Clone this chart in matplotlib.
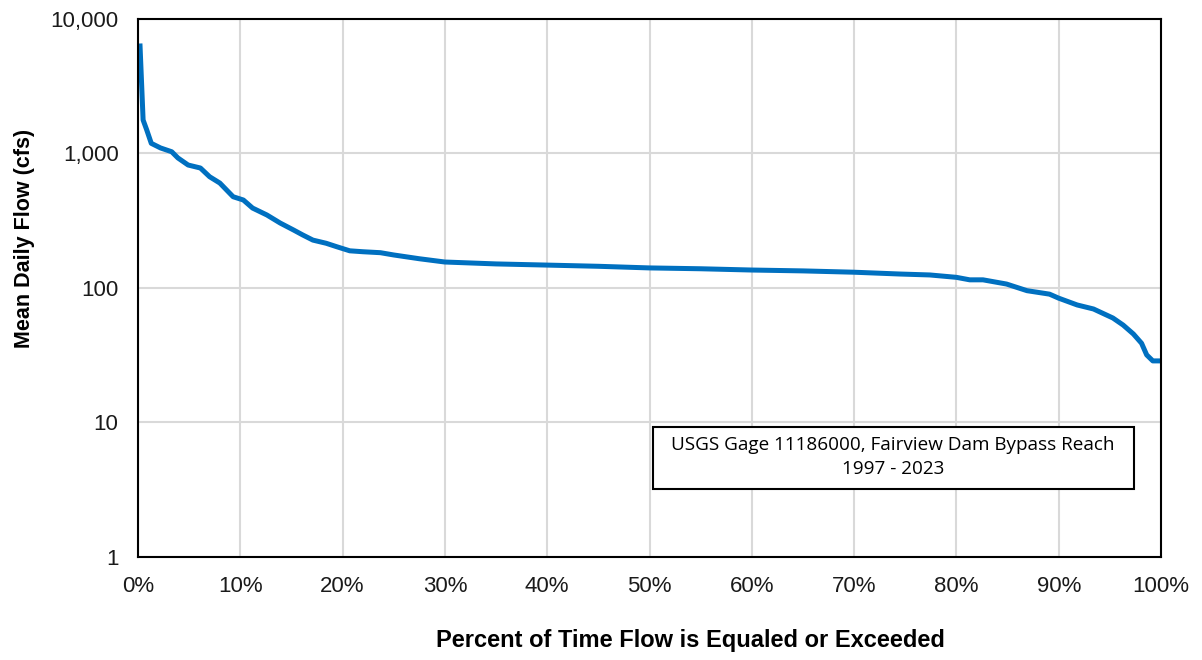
import matplotlib.pyplot as plt
from matplotlib.patches import Rectangle
from matplotlib.ticker import FuncFormatter, FixedLocator

# flow duration curve
PCT = [0.2, 0.5, 0.85, 1.3, 2.2, 3.3, 3.9, 4.9, 6.1, 7.0, 8.0, 9.3, 10.3, 11.2,
       12.6, 13.9, 15.2, 16.1, 17.1, 18.4, 19.4, 20.7, 22.0, 23.7, 25.0, 27.5,
       30.0, 35.0, 40.0, 45.0, 50.0, 55.0, 60.0, 65.0, 70.0, 74.5, 77.4, 80.0,
       81.3, 82.6, 84.9, 86.9, 89.1, 90.0, 91.8, 93.4, 95.3, 96.3, 97.3, 98.1,
       98.6, 99.2, 100.0]
FLOW = [6300, 1775, 1500, 1190, 1100, 1030, 927, 821, 780, 672, 603, 477, 451, 393,
        349, 304, 270, 248, 227, 215, 203, 189, 186, 183, 176, 165,
        156, 151, 148, 145, 141, 139, 136, 134, 131, 127, 125, 120,
        115, 115, 107, 95.5, 90, 84, 74.8, 69.8, 59.8, 53, 45.5, 38.8,
        31.8, 28.7, 28.7]

plt.rcParams['font.family'] = ['Liberation Sans', 'DejaVu Sans']

fig = plt.figure(figsize=(12.02, 6.6), dpi=100)
ax = fig.add_axes([0.1148, 0.1561, 0.8511, 0.8151])

ax.plot(PCT, FLOW, color='#0070C0', linewidth=3.6, solid_joinstyle='round')

ax.set_yscale('log')
ax.set_xlim(0, 100)
ax.set_ylim(1, 10000)
ax.xaxis.set_major_locator(FixedLocator(range(0, 101, 10)))
ax.xaxis.set_major_formatter(FuncFormatter(lambda v, p: '%d%%' % v))
ax.yaxis.set_major_locator(FixedLocator([1, 10, 100, 1000, 10000]))
ax.yaxis.set_major_formatter(FuncFormatter(lambda v, p: '{:,.0f}'.format(v)))
ax.yaxis.set_minor_locator(FixedLocator([]))
ax.tick_params(axis='both', length=0, labelsize=16, pad=14, labelcolor='#1a1a1a')
ax.grid(True, color='#D9D9D9', linewidth=1.5)
ax.set_axisbelow(True)
for s in ax.spines.values():
    s.set_color('black')
    s.set_linewidth(1.5)

fig.text(0.574, 0.030, 'Percent of Time Flow is Equaled or Exceeded',
         ha='center', va='center', fontsize=17, fontweight='bold')
fig.text(0.02, 0.639, 'Mean Daily Flow (cfs)', rotation=90,
         ha='center', va='center', fontsize=15.5, fontweight='bold')

# note box
ax.add_patch(Rectangle((0.503, 0.126), 0.471, 0.116, transform=ax.transAxes,
                       facecolor='white', edgecolor='black', linewidth=1.5, zorder=3))
ax.text(0.738, 0.186, 'USGS Gage 11186000, Fairview Dam Bypass Reach\n1997 - 2023',
        transform=ax.transAxes, ha='center', va='center', fontsize=13.6,
        linespacing=1.4, family=['Open Sans', 'DejaVu Sans'], zorder=4)

plt.savefig('out.png', dpi=100)
